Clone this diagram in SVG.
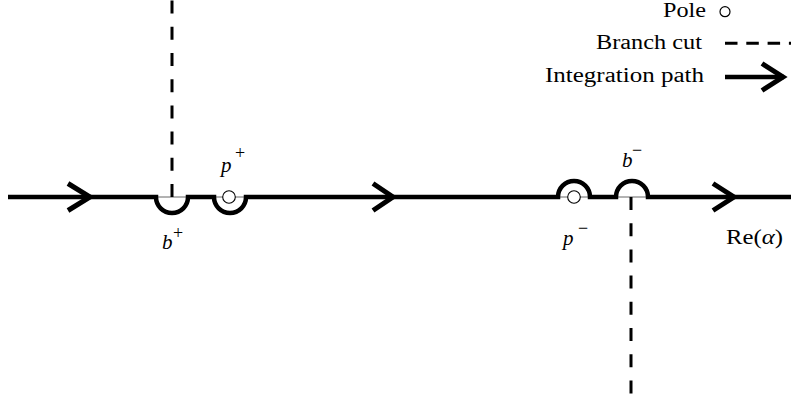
<svg xmlns="http://www.w3.org/2000/svg" width="791" height="398" viewBox="0 0 791 398">
<style>
.thick{fill:none;stroke:#000;stroke-width:4.5;stroke-linecap:butt}
.chev{fill:none;stroke:#000;stroke-width:5;stroke-linejoin:miter;stroke-miterlimit:10;stroke-linecap:butt}
.thin{fill:none;stroke:#666;stroke-width:1}
.cut{fill:none;stroke:#000;stroke-width:3;stroke-dasharray:13 13.2}
.pole{fill:#fff;stroke:#000;stroke-width:1.1}
</style>
<g id="connectors">
  <line class="thin" x1="156" y1="197" x2="188" y2="197"/>
  <line class="thin" x1="214" y1="197" x2="246" y2="197"/>
  <line class="thin" x1="558" y1="197" x2="590" y2="197"/>
  <line class="thin" x1="616" y1="197" x2="648" y2="197"/>
  <path class="cut" d="M172,197 V0"/>
  <path class="cut" d="M631,197 V398"/>
  <path id="integration-path" class="thick" d="M8,197 H156 A16,16 0 0 0 188,197 H214 A16,16 0 0 0 246,197 H558 A16,16 0 0 1 590,197 H616 A16,16 0 0 1 648,197 H791"/>
  <path class="chev" d="M68,183.5 L90,197 L68,210.5"/>
  <path class="chev" d="M373,183.5 L393,197 L373,210.5"/>
  <path class="chev" d="M713,183.5 L734,197 L713,210.5"/>
</g>
<g id="pole-plus"><circle class="pole" cx="229" cy="197" r="6.3"/></g>
<g id="pole-minus"><circle class="pole" cx="574" cy="197" r="6.3"/></g>
<g fill="#000" font-family="'Liberation Serif', serif">
<g id="label-p-plus"><text x="221" y="172" font-size="21" font-style="italic">p</text><text x="235" y="159" font-size="18">+</text></g>
<g id="label-b-plus"><text x="162" y="249" font-size="21" font-style="italic">b</text><text x="173" y="239" font-size="18">+</text></g>
<g id="label-p-minus"><text x="563" y="245" font-size="21" font-style="italic">p</text><text x="578" y="234" font-size="18">−</text></g>
<g id="label-b-minus"><text x="622" y="167" font-size="21" font-style="italic">b</text><text x="632" y="156" font-size="18">−</text></g>
<g id="label-re"><text x="726" y="244" font-size="20" textLength="57" lengthAdjust="spacingAndGlyphs">Re(<tspan font-style="italic">α</tspan>)</text></g>
<g id="legend">
  <text x="663" y="17" font-size="20" textLength="43" lengthAdjust="spacingAndGlyphs">Pole</text>
  <circle cx="725" cy="11.7" r="5" fill="none" stroke="#000" stroke-width="1.2"/>
  <text x="596" y="49" font-size="20" textLength="106" lengthAdjust="spacingAndGlyphs">Branch cut</text>
  <line x1="725" y1="43.3" x2="791" y2="43.3" stroke="#000" stroke-width="3" stroke-dasharray="12.5 8.8"/>
  <text x="545" y="82" font-size="20" textLength="159" lengthAdjust="spacingAndGlyphs">Integration path</text>
  <line x1="725" y1="77" x2="784" y2="77" stroke="#000" stroke-width="4.5"/>
  <path class="chev" d="M762,63.5 L783,77 L762,90.5"/>
</g>
</g>
</svg>
